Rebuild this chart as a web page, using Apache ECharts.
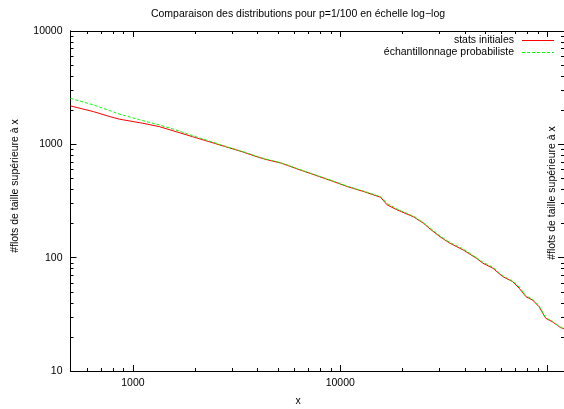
<!DOCTYPE html>
<html><head><meta charset="utf-8">
<script src="https://cdn.jsdelivr.net/npm/echarts@6/dist/echarts.min.js"></script>
<style>html,body{margin:0;padding:0;background:#fff}#c{width:564px;height:409px}</style>
</head><body><div id="c"></div>
<script>
const titleText = 'Comparaison des distributions pour p=1/100 en échelle log\u2212log';
const xName = 'x';
const yName = '#flots de taille supérieure à x';
const seriesNames = ['stats initiales', 'échantillonnage probabiliste'];
const seriesColors = ['#ff0000', '#00ff00'];

const xMajorTicks = [1000, 10000, 100000];
const xMajorLabels = [1000, 10000];
const xMinorTicks = [500, 600, 700, 800, 900, 2000, 3000, 4000, 5000, 6000, 7000, 8000, 9000, 20000, 30000, 40000, 50000, 60000, 70000, 80000, 90000];
const yMajorTicks = [10, 100, 1000, 10000];
const yMinorTicks = [20, 30, 40, 50, 60, 70, 80, 90, 200, 300, 400, 500, 600, 700, 800, 900, 2000, 3000, 4000, 5000, 6000, 7000, 8000, 9000];

const redX = [500, 644, 774, 864, 1116, 1342, 1612, 1935, 2325, 2794, 3354, 4030, 4339, 5209, 6258, 7521, 9028, 10850, 13040, 15650, 16850, 18800, 22590, 25220, 27130, 30280, 33800, 39160, 45340, 48820, 54500, 60820, 67900, 73020, 78620, 84610, 90980, 97930, 105400, 114300, 120000];
const redY = [2183, 1945, 1756, 1665, 1535, 1432, 1294, 1169, 1056, 954, 862, 769, 739, 681, 603, 537, 478, 423, 382, 341, 292, 264, 229, 201, 179, 153, 134, 117, 98.8, 89.3, 80.6, 68, 61.4, 53.7, 45.3, 42.3, 36.9, 29.2, 27.2, 24.5, 23.5];

const greenX = [500, 644, 774, 864, 1116, 1342, 1612, 1935, 2325, 2794, 3354, 4030, 4339, 5209, 6258, 7521, 9028, 10850, 13040, 15650, 16850, 18800, 22590, 25220, 27130, 30280, 33800, 39160, 45340, 48820, 54500, 60820, 67900, 73020, 78620, 84610, 90980, 97930, 105400, 114300, 120000];
const greenY = [2543, 2228, 1982, 1844, 1619, 1483, 1340, 1193, 1072, 960, 868, 775, 745, 685, 607, 540, 482, 426, 385, 345, 300, 268, 232, 203, 182, 155, 136, 119, 100, 91, 82, 69, 62, 55, 46, 43, 37.5, 29.5, 27.5, 24.5, 23.5];

const FONT = '"Liberation Sans", Arial, Helvetica, sans-serif';
const FS = 10.5;
const pair = (xs, ys) => xs.map((v, i) => [v, ys[i]]);

function xAx(pos, ticks, len, labels) {
  return {
    type: 'log', logBase: 10, min: 500, max: 120000, position: pos,
    axisLine: { show: true, onZero: false, lineStyle: { color: '#000', width: 1 } },
    axisTick: { show: true, inside: true, length: len, customValues: ticks, lineStyle: { color: '#000', width: 1 } },
    axisLabel: labels ? { show: true, customValues: labels, margin: 7, color: '#000', fontFamily: FONT, fontSize: FS, formatter: v => String(Math.round(v)) } : { show: false },
    splitLine: { show: false }, minorTick: { show: false }
  };
}
function yAx(pos, ticks, len, labels) {
  return {
    type: 'log', logBase: 10, min: 10, max: 10000, position: pos,
    axisLine: { show: true, onZero: false, lineStyle: { color: '#000', width: 1 } },
    axisTick: { show: true, inside: true, length: len, customValues: ticks, lineStyle: { color: '#000', width: 1 } },
    axisLabel: labels ? { show: true, customValues: labels, margin: 8, color: '#000', fontFamily: FONT, fontSize: FS, formatter: v => String(Math.round(v)) } : { show: false },
    splitLine: { show: false }, minorTick: { show: false }
  };
}

const legendGraphics = [];
seriesNames.forEach((name, i) => {
  const y = 40 + i * 12;
  legendGraphics.push({ type: 'text', x: 514, y: y, style: { text: name, fontFamily: FONT, fontSize: FS, fill: '#000', textAlign: 'right', textVerticalAlign: 'middle' } });
  legendGraphics.push({ type: 'line', shape: { x1: 522, y1: y + 0.5, x2: 554, y2: y + 0.5 }, style: { stroke: seriesColors[i], lineWidth: 1, lineDash: i === 1 ? [3, 2] : null } });
});

const chart = echarts.init(document.getElementById('c'), null, { renderer: 'canvas' });
chart.setOption({
  animation: false,
  backgroundColor: '#fff',
  grid: { left: 70.5, top: 31, bottom: 38, right: -4.6, containLabel: false },
  xAxis: [xAx('bottom', xMajorTicks, 6, xMajorLabels), xAx('bottom', xMinorTicks, 3, null), xAx('top', xMajorTicks, 6, null), xAx('top', xMinorTicks, 3, null)],
  yAxis: [yAx('left', yMajorTicks, 6, yMajorTicks), yAx('left', yMinorTicks, 3, null), yAx('right', yMajorTicks, 6, null), yAx('right', yMinorTicks, 3, null)],
  series: [
    { name: seriesNames[0], type: 'line', xAxisIndex: 0, yAxisIndex: 0, data: pair(redX, redY), symbol: 'none', showSymbol: false,
      lineStyle: { color: seriesColors[0], width: 1 }, itemStyle: { color: seriesColors[0] } },
    { name: seriesNames[1], type: 'line', xAxisIndex: 0, yAxisIndex: 0, data: pair(greenX, greenY), symbol: 'none', showSymbol: false,
      lineStyle: { color: seriesColors[1], width: 1, type: [3, 2] }, itemStyle: { color: seriesColors[1] } }
  ],
  graphic: [
    { type: 'text', x: 298, y: 14, style: { text: titleText, fontFamily: FONT, fontSize: FS, fill: '#000', textAlign: 'center', textVerticalAlign: 'middle' } },
    { type: 'text', x: 298, y: 401, style: { text: xName, fontFamily: FONT, fontSize: FS, fill: '#000', textAlign: 'center', textVerticalAlign: 'middle' } },
    { type: 'text', x: 15, y: 186, rotation: Math.PI / 2, style: { text: yName, fontFamily: FONT, fontSize: FS, fill: '#000', textAlign: 'center', textVerticalAlign: 'middle' } },
    { type: 'text', x: 552, y: 193, rotation: Math.PI / 2, style: { text: yName, fontFamily: FONT, fontSize: FS, fill: '#000', textAlign: 'center', textVerticalAlign: 'middle' } }
  ].concat(legendGraphics)
});
</script>
</body></html>
